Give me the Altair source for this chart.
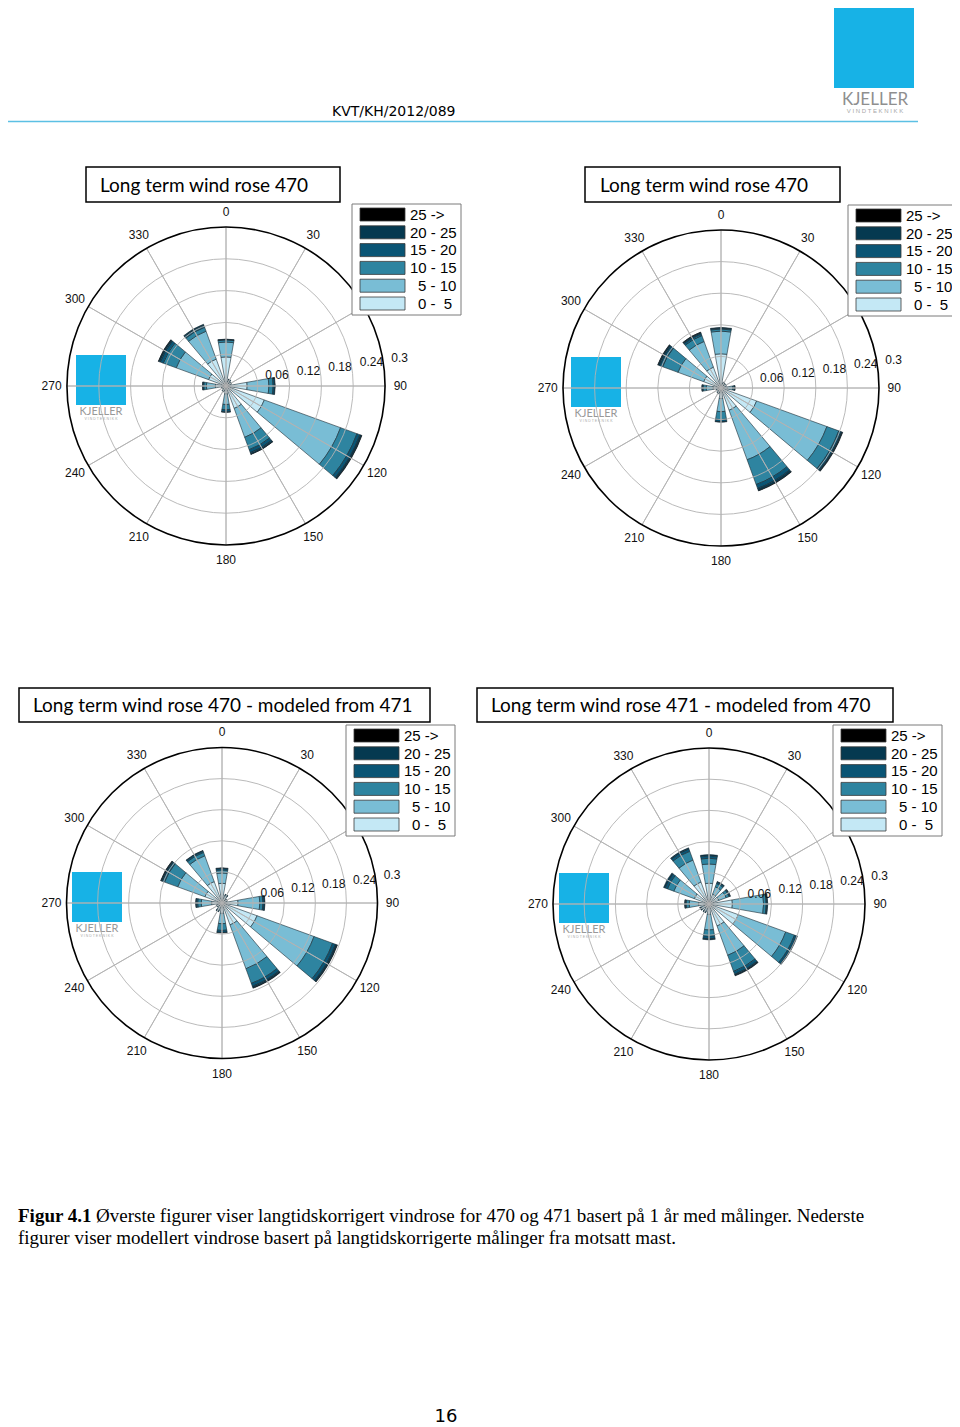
import altair as alt
import pandas as pd

# ---------------------------------------------------------------- data
directions = [0, 30, 60, 90, 120, 150, 180, 210, 240, 270, 300, 330]
angle_labels = ["0", "30", "60", "90", "120", "150", "180", "210", "240", "270", "300", "330"]
speed_bins = ["0 -  5", "5 - 10", "10 - 15", "15 - 20", "20 - 25", "25 ->"]
bin_colors = ["#c4e8f5", "#79bdd5", "#2e84a0", "#0a5575", "#053950", "#000000"]
legend_labels = ["25 ->", "20 - 25", "15 - 20", "10 - 15", "5 - 10", "0 -\u00a0\u00a05"]
legend_indent = [0, 0, 0, 0, 8, 8]
legend_colors = ["#000000", "#053950", "#0a5575", "#2e84a0", "#79bdd5", "#c4e8f5"]
ring_values = [0.06, 0.12, 0.18, 0.24]
ring_labels = ["0.06", "0.12", "0.18", "0.24", "0.3"]
ring_label_values = [0.06, 0.12, 0.18, 0.24, 0.3]

# Long term wind rose 470 (top left)
lt470_0_5 = [0.055, 0.008, 0.007, 0.040, 0.077, 0.045, 0.015, 0.008, 0.006, 0.020, 0.035, 0.054]
lt470_5_10 = [0.028, 0.004, 0.003, 0.041, 0.153, 0.058, 0.020, 0.003, 0.002, 0.017, 0.065, 0.056]
lt470_10_15 = [0.004, 0.001, 0.001, 0.008, 0.033, 0.025, 0.010, 0.001, 0.001, 0.005, 0.026, 0.008]
lt470_15_20 = [0.001, 0.001, 0.000, 0.003, 0.006, 0.006, 0.004, 0.000, 0.000, 0.002, 0.006, 0.004]
lt470_20_25 = [0.0005, 0.0, 0.0, 0.001, 0.003, 0.003, 0.001, 0.0, 0.0, 0.0005, 0.003, 0.002]
lt470_25_up = [0.0, 0.0, 0.0, 0.0, 0.001, 0.0005, 0.0, 0.0, 0.0, 0.0, 0.001, 0.0]

# Long term wind rose (top right)
lt471_0_5 = [0.065, 0.008, 0.007, 0.012, 0.072, 0.045, 0.020, 0.008, 0.006, 0.015, 0.035, 0.042]
lt471_5_10 = [0.043, 0.003, 0.003, 0.010, 0.142, 0.100, 0.025, 0.003, 0.003, 0.013, 0.052, 0.052]
lt471_10_15 = [0.004, 0.001, 0.001, 0.003, 0.024, 0.050, 0.015, 0.001, 0.001, 0.006, 0.031, 0.012]
lt471_15_20 = [0.002, 0.0, 0.0, 0.001, 0.005, 0.008, 0.004, 0.0, 0.0, 0.002, 0.006, 0.004]
lt471_20_25 = [0.001, 0.0, 0.0, 0.001, 0.002, 0.004, 0.001, 0.0, 0.0, 0.0005, 0.003, 0.002]
lt471_25_up = [0.0, 0.0, 0.0, 0.0, 0.001, 0.001, 0.0, 0.0, 0.0, 0.0, 0.001, 0.001]

# Long term wind rose 470 - modeled from 471 (bottom left)
m470_0_5 = [0.038, 0.010, 0.007, 0.031, 0.072, 0.045, 0.020, 0.010, 0.007, 0.020, 0.035, 0.044]
m470_5_10 = [0.020, 0.005, 0.003, 0.042, 0.117, 0.090, 0.020, 0.005, 0.004, 0.020, 0.056, 0.053]
m470_10_15 = [0.006, 0.002, 0.001, 0.006, 0.038, 0.030, 0.013, 0.002, 0.001, 0.007, 0.027, 0.007]
m470_15_20 = [0.003, 0.001, 0.0, 0.003, 0.006, 0.006, 0.004, 0.001, 0.0, 0.003, 0.005, 0.003]
m470_20_25 = [0.001, 0.0, 0.0, 0.001, 0.003, 0.003, 0.001, 0.0, 0.0, 0.001, 0.002, 0.001]
m470_25_up = [0.0, 0.0, 0.0, 0.0, 0.001, 0.001, 0.0, 0.0, 0.0, 0.0, 0.001, 0.0]

# Long term wind rose 471 - modeled from 470 (bottom right)
m471_0_5 = [0.040, 0.020, 0.020, 0.045, 0.060, 0.045, 0.020, 0.010, 0.010, 0.020, 0.030, 0.045]
m471_5_10 = [0.037, 0.015, 0.015, 0.060, 0.097, 0.060, 0.030, 0.005, 0.006, 0.018, 0.042, 0.045]
m471_10_15 = [0.011, 0.007, 0.006, 0.005, 0.018, 0.033, 0.012, 0.002, 0.002, 0.006, 0.013, 0.018]
m471_15_20 = [0.005, 0.003, 0.002, 0.002, 0.004, 0.006, 0.005, 0.001, 0.001, 0.002, 0.005, 0.005]
m471_20_25 = [0.002, 0.001, 0.001, 0.001, 0.002, 0.002, 0.002, 0.0, 0.0, 0.001, 0.003, 0.002]
m471_25_up = [0.0, 0.0, 0.0, 0.0, 0.0, 0.001, 0.0, 0.0, 0.0, 0.0, 0.0, 0.0]

titles = [
    "Long term wind rose 470",
    "Long term wind rose 470",
    "Long term wind rose 470 - modeled from 471",
    "Long term wind rose 471 - modeled from 470",
]
header_text = "KVT/KH/2012/089"
caption_bold = "Figur 4.1"
caption_line1 = "Øverste figurer viser langtidskorrigert vindrose for 470 og 471 basert på 1 år med målinger. Nederste"
caption_line2 = "figurer viser modellert vindrose basert på langtidskorrigerte målinger fra motsatt mast."
page_number = "16"

# ---------------------------------------------------------------- layout
W, H = 944, 1419
XS = alt.Scale(domain=[8, 8 + W])
YS = alt.Scale(domain=[8, 8 + H], reverse=True)
TS = alt.Scale(domain=[0, 360], range=[0, 6.283185307179586])

roses = [
    dict(bands=[lt470_0_5, lt470_5_10, lt470_10_15, lt470_15_20, lt470_20_25, lt470_25_up],
         cx=226, cy=386, R=159, box=(86, 167, 340, 202), tx=100, leg=(352, 204)),
    dict(bands=[lt471_0_5, lt471_5_10, lt471_10_15, lt471_15_20, lt471_20_25, lt471_25_up],
         cx=721, cy=388, R=158, box=(585, 167, 840, 202), tx=600, leg=(848, 205)),
    dict(bands=[m470_0_5, m470_5_10, m470_10_15, m470_15_20, m470_20_25, m470_25_up],
         cx=222, cy=903, R=155.5, box=(19, 688, 430, 722), tx=33, leg=(346, 725)),
    dict(bands=[m471_0_5, m471_5_10, m471_10_15, m471_15_20, m471_20_25, m471_25_up],
         cx=709, cy=904, R=156, box=(477, 688, 893, 722), tx=491, leg=(833, 725)),
]

NUM_FONT = "Liberation Sans"
TITLE_FONT = "Lato"
LOGO_BLUE = "#17b2e6"
GRID = "#b2b2b2"


def px(field):
    return alt.X(field, type="quantitative", scale=XS, axis=None)


def py(field):
    return alt.Y(field, type="quantitative", scale=YS, axis=None)


def rose_chart(i, cfg):
    cx, cy, R = cfg["cx"], cfg["cy"], cfg["R"]
    RS = alt.Scale(type="linear", domain=[0, 0.3], range=[0, R], zero=True)

    # petals
    rows = []
    for k, d in enumerate(directions):
        cum = 0.0
        for b, vals in enumerate(cfg["bands"]):
            v = vals[k]
            if v <= 0:
                continue
            rows.append(dict(cx=cx, cy=cy, t0=d - 10, t1=d + 10, r0=cum, r1=cum + v,
                             bin=speed_bins[b]))
            cum += v
    petals = alt.Chart(pd.DataFrame(rows)).mark_arc(stroke="#1b2a33", strokeWidth=0.6).encode(
        x=px("cx"), y=py("cy"),
        theta=alt.Theta("t0:Q", scale=TS), theta2="t1:Q",
        radius=alt.Radius("r1:Q", scale=RS), radius2="r0:Q",
        color=alt.Color("bin:N", scale=alt.Scale(domain=speed_bins, range=bin_colors), legend=None),
    )

    # logo behind the grid
    logo_df = pd.DataFrame([dict(x0=cx - 150, x1=cx - 100, y0=cy - 31, y1=cy + 19,
                                 tx=cx - 125, ty=cy + 26, ty2=cy + 33)])
    logo = alt.Chart(logo_df).mark_rect(color=LOGO_BLUE).encode(
        x=px("x0"), x2="x1", y=py("y0"), y2="y1")
    logo_t = alt.Chart(logo_df).mark_text(font=TITLE_FONT, fontSize=11, color="#999999",
                                          baseline="middle").encode(
        x=px("tx"), y=py("ty"), text=alt.value("KJELLER"))
    logo_t2 = alt.Chart(logo_df).mark_text(font=NUM_FONT, fontSize=3.5, color="#aaaaaa",
                                           baseline="middle").encode(
        x=px("tx"), y=py("ty2"), text=alt.value("V I N D T E K N I K K"))

    # grid rings and spokes
    ring_df = pd.DataFrame(dict(cx=cx, cy=cy, t0=0, t1=360, r=ring_values))
    rings = alt.Chart(ring_df).mark_arc(filled=False, stroke=GRID, strokeWidth=0.9).encode(
        x=px("cx"), y=py("cy"),
        theta=alt.Theta("t0:Q", scale=TS), theta2="t1:Q",
        radius=alt.Radius("r:Q", scale=RS))
    spoke_df = pd.DataFrame(dict(cx=cx, cy=cy, a=directions, r=0.3, r0=0.0))
    spokes = alt.Chart(spoke_df).mark_arc(filled=False, stroke=GRID, strokeWidth=0.9).encode(
        x=px("cx"), y=py("cy"),
        theta=alt.Theta("a:Q", scale=TS), theta2="a:Q",
        radius=alt.Radius("r:Q", scale=RS), radius2="r0:Q")
    outer_df = pd.DataFrame([dict(cx=cx, cy=cy, t0=0, t1=360, r=0.3)])
    outer = alt.Chart(outer_df).mark_arc(filled=False, stroke="#000000", strokeWidth=1.6).encode(
        x=px("cx"), y=py("cy"),
        theta=alt.Theta("t0:Q", scale=TS), theta2="t1:Q",
        radius=alt.Radius("r:Q", scale=RS))

    # labels
    ang_df = pd.DataFrame(dict(cx=cx, cy=cy, a=directions, r=0.329, lab=angle_labels))
    ang = alt.Chart(ang_df).mark_text(font=NUM_FONT, fontSize=12, color="#111111",
                                      baseline="middle").encode(
        x=px("cx"), y=py("cy"),
        theta=alt.Theta("a:Q", scale=TS), radius=alt.Radius("r:Q", scale=RS),
        text="lab:N")
    rl_df = pd.DataFrame(dict(cx=cx, cy=cy, a=82,
                              r=[v + 0.015 for v in ring_label_values], lab=ring_labels))
    rl = alt.Chart(rl_df).mark_text(font=NUM_FONT, fontSize=12, color="#111111",
                                    align="left", baseline="middle", dy=-5).encode(
        x=px("cx"), y=py("cy"),
        theta=alt.Theta("a:Q", scale=TS), radius=alt.Radius("r:Q", scale=RS),
        text="lab:N")

    # legend
    lx, ly = cfg["leg"]
    lbox = alt.Chart(pd.DataFrame([dict(x0=lx, x1=lx + 109, y0=ly, y1=ly + 111)])).mark_rect(
        fill="#ffffff", stroke="#7a7a7a", strokeWidth=1).encode(
        x=px("x0"), x2="x1", y=py("y0"), y2="y1")
    sw_rows = []
    for j, lab in enumerate(legend_labels):
        top = ly + 4 + j * 17.8
        sw_rows.append(dict(x0=lx + 8, x1=lx + 53, y0=top, y1=top + 13, ym=top + 6.8,
                            tx=lx + 58 + legend_indent[j], lab=lab, col=legend_colors[j]))
    sw_df = pd.DataFrame(sw_rows)
    swatch = alt.Chart(sw_df).mark_rect(stroke="#3a3a3a", strokeWidth=0.8).encode(
        x=px("x0"), x2="x1", y=py("y0"), y2="y1",
        color=alt.Color("col:N", scale=None))
    swlab = alt.Chart(sw_df).mark_text(font=NUM_FONT, fontSize=15, align="left",
                                       baseline="middle", color="#000000").encode(
        x=px("tx"), y=py("ym"), text="lab:N")

    # title box
    bx0, by0, bx1, by1 = cfg["box"]
    tdf = pd.DataFrame([dict(x0=bx0, x1=bx1, y0=by0, y1=by1, tx=cfg["tx"],
                             ty=(by0 + by1) / 2 + 1, lab=titles[i])])
    tbox = alt.Chart(tdf).mark_rect(fill="#ffffff", stroke="#000000", strokeWidth=1.5).encode(
        x=px("x0"), x2="x1", y=py("y0"), y2="y1")
    ttext = alt.Chart(tdf).mark_text(font=TITLE_FONT, fontSize=19, align="left",
                                     baseline="middle", color="#000000").encode(
        x=px("tx"), y=py("ty"), text="lab:N")

    return alt.layer(logo, logo_t, logo_t2, petals, rings, spokes, outer, ang, rl,
                     lbox, swatch, swlab, tbox, ttext)


# ---------------------------------------------------------------- page
hdr = pd.DataFrame([dict(x=332, y=116, lab=header_text)])
header = alt.Chart(hdr).mark_text(font="DejaVu Sans", fontSize=14, align="left",
                                  baseline="alphabetic", color="#000000").encode(
    x=px("x"), y=py("y"), text="lab:N")
hline = alt.Chart(pd.DataFrame([dict(x0=8, x1=918, y=121.5)])).mark_rule(
    color="#5cc0e4", strokeWidth=1.5).encode(x=px("x0"), x2="x1", y=py("y"))
big_logo_df = pd.DataFrame([dict(x0=834, x1=914, y0=6, y1=88, tx=875, ty=100, ty2=111)])
big_logo = alt.Chart(big_logo_df).mark_rect(color=LOGO_BLUE).encode(
    x=px("x0"), x2="x1", y=py("y0"), y2="y1")
big_logo_t = alt.Chart(big_logo_df).mark_text(font=TITLE_FONT, fontSize=17, color="#8f8f8f",
                                              baseline="middle").encode(
    x=px("tx"), y=py("ty"), text=alt.value("KJELLER"))
big_logo_t2 = alt.Chart(big_logo_df).mark_text(font=NUM_FONT, fontSize=6, color="#a8a8a8",
                                               baseline="middle").encode(
    x=px("tx"), y=py("ty2"), text=alt.value("V I N D T E K N I K K"))

cap = pd.DataFrame([dict(x=18, y=1222, lab=caption_bold)])
cap_b = alt.Chart(cap).mark_text(font="Liberation Serif", fontSize=19, fontWeight="bold",
                                 align="left", baseline="alphabetic", color="#000000").encode(
    x=px("x"), y=py("y"), text="lab:N")
cap2 = pd.DataFrame([dict(x=96, y=1222, lab=caption_line1), dict(x=18, y=1244, lab=caption_line2)])
cap_r = alt.Chart(cap2).mark_text(font="Liberation Serif", fontSize=19, align="left",
                                  baseline="alphabetic", color="#000000").encode(
    x=px("x"), y=py("y"), text="lab:N")
pn = alt.Chart(pd.DataFrame([dict(x=446, y=1422, lab=page_number)])).mark_text(
    font="DejaVu Sans", fontSize=18, baseline="alphabetic", color="#000000").encode(
    x=px("x"), y=py("y"), text="lab:N")

page = alt.layer(header, hline, big_logo, big_logo_t, big_logo_t2, cap_b, cap_r, pn)

chart = alt.layer(page, *[rose_chart(i, c) for i, c in enumerate(roses)]).resolve_scale(
    radius="independent"
).properties(
    width=W, height=H, padding=0, background="#ffffff",
    autosize=alt.AutoSizeParams(type="none"),
).configure_view(strokeWidth=0)

chart.save("out.html", embed_options={"renderer": "svg", "actions": False})
